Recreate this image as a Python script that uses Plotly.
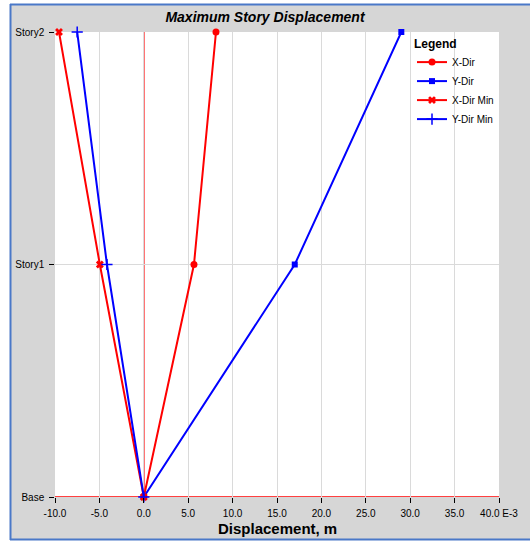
import plotly.graph_objects as go

stories = ["Base", "Story1", "Story2"]
story_level = [0, 1, 2]
x_dir = [0.0, 5.65, 8.13]
y_dir = [0.0, 17.0, 29.0]
x_dir_min = [0.0, -4.95, -9.55]
y_dir_min = [0.0, -4.15, -7.5]
x_ticks = [-10, -5, 0, 5, 10, 15, 20, 25, 30, 35, 40]
x_ticklabels = ["-10.0", "-5.0", "0.0", "5.0", "10.0", "15.0", "20.0", "25.0", "30.0", "35.0", "40.0 E-3"]

RED = "#ff0000"
BLUE = "#0000ff"
FONT = "Arial, Liberation Sans, sans-serif"

fig = go.Figure()
fig.add_trace(go.Scatter(x=x_dir, y=story_level, name="X-Dir", mode="lines+markers",
                         line=dict(color=RED, width=2), marker=dict(symbol="circle", size=7, color=RED),
                         cliponaxis=False))
fig.add_trace(go.Scatter(x=y_dir, y=story_level, name="Y-Dir", mode="lines+markers",
                         line=dict(color=BLUE, width=2), marker=dict(symbol="square", size=6, color=BLUE),
                         cliponaxis=False))
fig.add_trace(go.Scatter(x=x_dir_min, y=story_level, name="X-Dir Min", mode="lines+markers",
                         line=dict(color=RED, width=2), marker=dict(symbol="x", size=7, color=RED),
                         cliponaxis=False))
fig.add_trace(go.Scatter(x=y_dir_min, y=story_level, name="Y-Dir Min", mode="lines+markers",
                         line=dict(color=BLUE, width=2),
                         marker=dict(symbol="cross-thin", size=8, color=BLUE, line=dict(color=BLUE, width=1.5)),
                         cliponaxis=False))

L, R, T, B = 55, 31, 32, 47
W, H = 530, 544
pw = W - L - R
ph = H - T - B


def px(x):
    return (x - L) / pw


def py(y):
    return (H - B - y) / ph


FRAME = "#4a78c8"
shapes = [
    dict(type="line", xref="x", yref="paper", x0=0, x1=0, y0=0, y1=1,
         line=dict(color=RED, width=1.5), layer="between"),
    dict(type="line", xref="paper", yref="y", x0=0, x1=1, y0=0, y1=0,
         line=dict(color=RED, width=1.5), layer="between"),
    dict(type="rect", xref="paper", yref="paper", x0=px(0), x1=px(10), y0=py(H), y1=py(0),
         fillcolor="white", line=dict(width=0), layer="above"),
    dict(type="rect", xref="paper", yref="paper", x0=px(0), x1=px(W), y0=py(4), y1=py(0),
         fillcolor="white", line=dict(width=0), layer="above"),
    dict(type="rect", xref="paper", yref="paper", x0=px(0), x1=px(W), y0=py(H), y1=py(540),
         fillcolor="white", line=dict(width=0), layer="above"),
    dict(type="line", xref="paper", yref="paper", x0=px(10.5), x1=px(10.5), y0=py(4), y1=py(540),
         line=dict(color=FRAME, width=2), layer="above"),
    dict(type="line", xref="paper", yref="paper", x0=px(10), x1=px(W), y0=py(4.5), y1=py(4.5),
         line=dict(color=FRAME, width=2), layer="above"),
    dict(type="line", xref="paper", yref="paper", x0=px(10), x1=px(W), y0=py(539.5), y1=py(539.5),
         line=dict(color=FRAME, width=2), layer="above"),
]

fig.update_layout(
    width=W, height=H,
    margin=dict(l=L, r=R, t=T, b=B, pad=0, autoexpand=False),
    paper_bgcolor="#d6d6d6",
    plot_bgcolor="white",
    font=dict(family=FONT, size=10, color="#000000"),
    title=dict(text="<b><i>Maximum Story Displacement</i></b>", x=px(277), xanchor="center",
               y=1 - 17 / H, yanchor="middle", font=dict(size=14, family=FONT, color="#000000")),
    showlegend=True,
    legend=dict(title=dict(text="<b>Legend</b>", font=dict(size=12)), x=1, xanchor="right", y=1,
                yanchor="top", bgcolor="rgba(0,0,0,0)", font=dict(size=10), tracegroupgap=0,
                itemwidth=30),
    xaxis=dict(range=[-10, 40], tickvals=x_ticks, ticktext=x_ticklabels, showgrid=True,
               gridcolor="#dadada", gridwidth=1, zeroline=False, automargin=False,
               showline=False, ticks="outside", ticklen=5, tickwidth=1, tickcolor="#000000",
               ticklabelstandoff=2,
               tickfont=dict(size=10), fixedrange=True),
    yaxis=dict(range=[0, 2], tickvals=story_level, ticktext=[s + " " for s in stories], showgrid=True,
               gridcolor="#dadada", automargin=False,
               zeroline=False, showline=False, ticks="outside", ticklen=5, tickwidth=1, tickcolor="#000000",
               tickfont=dict(size=10), fixedrange=True),
    annotations=[dict(text="<b>Displacement, m</b>", xref="paper", yref="paper", x=px(277), y=py(528),
                      xanchor="center", yanchor="middle", showarrow=False, font=dict(size=15))],
    shapes=shapes,
)

fig.write_html("out.html")
